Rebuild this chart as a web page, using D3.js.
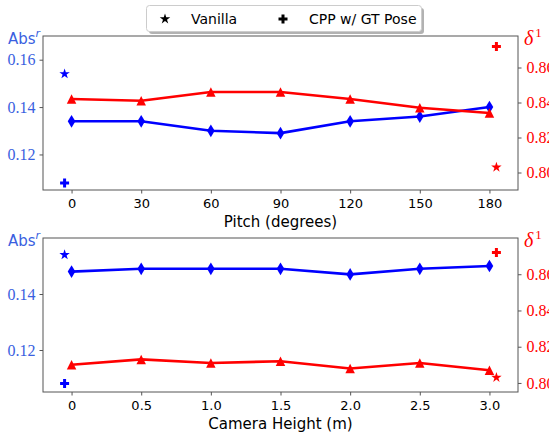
<!DOCTYPE html>
<html>
<head>
<meta charset="utf-8">
<script src="https://cdn.jsdelivr.net/npm/d3@7"></script>
<style>
  html, body { margin: 0; padding: 0; background: #fff; }
  svg { display: block; }
</style>
</head>
<body>
<svg id="chart" width="549" height="435"></svg>
<script>
// ---- data ----
const pitchValues = [0, 30, 60, 90, 120, 150, 180];
const pitchAbsRel = [0.134, 0.134, 0.130, 0.129, 0.134, 0.136, 0.140];
const pitchDelta1 = [0.842, 0.841, 0.846, 0.846, 0.842, 0.837, 0.834];

const heightValues = [0, 0.5, 1.0, 1.5, 2.0, 2.5, 3.0];
const heightAbsRel = [0.148, 0.149, 0.149, 0.149, 0.147, 0.149, 0.150];
const heightDelta1 = [0.810, 0.813, 0.811, 0.812, 0.808, 0.811, 0.807];

// reference methods (same for both sweeps)
const vanillaAbsRel = 0.154;
const vanillaDelta1 = 0.803;
const gtPoseAbsRel = 0.108;
const gtPoseDelta1 = 0.872;

const pitchTicks = [0, 30, 60, 90, 120, 150, 180];
const heightTicks = ["0", "0.5", "1.0", "1.5", "2.0", "2.5", "3.0"];
const absTicksTop = [0.12, 0.14, 0.16];
const absTicksBottom = [0.12, 0.14];
const deltaTicks = [0.80, 0.82, 0.84, 0.86];

const legendItems = [
  { label: "Vanilla", symbol: "star" },
  { label: "CPP w/ GT Pose", symbol: "plus" }
];

// ---- styles ----
const BLUE = "#0000ff";
const RED = "#ff0000";
const LABEL_BLUE = "#3a5fe0";
const SPINE = "#555";
const serif = "'Liberation Serif', 'DejaVu Serif', serif";
const sans = "'DejaVu Sans', sans-serif";

const svg = d3.select("#chart");

// thin diamond and wide triangle, like the usual plotting markers
const thinDiamond = {
  draw(ctx, size) {
    const h = Math.sqrt(size) * 1.3, w = h * 0.6;
    ctx.moveTo(0, -h / 2); ctx.lineTo(w / 2, 0); ctx.lineTo(0, h / 2); ctx.lineTo(-w / 2, 0); ctx.closePath();
  }
};
const triUp = {
  draw(ctx, size) {
    const s = Math.sqrt(size);
    ctx.moveTo(0, -s / 2); ctx.lineTo(s / 2, s / 2); ctx.lineTo(-s / 2, s / 2); ctx.closePath();
  }
};
const fatPlus = {
  draw(ctx, size) {
    const a = Math.sqrt(size) / 2, b = a / 3;
    ctx.moveTo(-b, -a); ctx.lineTo(b, -a); ctx.lineTo(b, -b); ctx.lineTo(a, -b);
    ctx.lineTo(a, b); ctx.lineTo(b, b); ctx.lineTo(b, a); ctx.lineTo(-b, a);
    ctx.lineTo(-b, b); ctx.lineTo(-a, b); ctx.lineTo(-a, -b); ctx.lineTo(-b, -b); ctx.closePath();
  }
};
const symbolPath = {
  diamond: d3.symbol().type(thinDiamond).size(96)(),
  triangle: d3.symbol().type(triUp).size(90)(),
  star: d3.symbol().type(d3.symbolStar).size(34)(),
  plus: d3.symbol().type(fatPlus).size(81)()
};

function panel(cfg) {
  const { top, bottom, left, right } = cfg.box;
  const g = svg.append("g");
  const x = d3.scaleLinear().domain(cfg.xDomain).range([left, right]);
  const yL = d3.scaleLinear().domain(cfg.leftDomain).range([bottom, top]);
  const yR = d3.scaleLinear().domain(cfg.rightDomain).range([bottom, top]);

  // frame
  g.append("rect").attr("x", left).attr("y", top)
    .attr("width", right - left).attr("height", bottom - top)
    .attr("fill", "none").attr("stroke", SPINE).attr("stroke-width", 1);

  // bottom axis
  const xAxis = g.append("g").attr("transform", `translate(0,${bottom})`)
    .call(d3.axisBottom(x).tickValues(cfg.xTicks).tickSize(3.5).tickPadding(5)
      .tickFormat((d, i) => cfg.xTickLabels[i]));
  xAxis.select(".domain").remove();
  xAxis.selectAll("line").attr("stroke", SPINE);
  xAxis.selectAll("text").attr("font-family", sans).attr("font-size", 13).attr("fill", "#000");

  // left axis
  const lAxis = g.append("g").attr("transform", `translate(${left},0)`)
    .call(d3.axisLeft(yL).tickValues(cfg.leftTicks).tickSize(3.5).tickPadding(4).tickFormat(d3.format(".2f")));
  lAxis.select(".domain").remove();
  lAxis.selectAll("line").attr("stroke", SPINE);
  lAxis.selectAll("text").attr("font-family", serif).attr("font-size", 16).attr("fill", LABEL_BLUE);

  // right axis
  const rAxis = g.append("g").attr("transform", `translate(${right},0)`)
    .call(d3.axisRight(yR).tickValues(deltaTicks).tickSize(3.5).tickPadding(5).tickFormat(d3.format(".2f")));
  rAxis.select(".domain").remove();
  rAxis.selectAll("line").attr("stroke", SPINE);
  rAxis.selectAll("text").attr("font-family", serif).attr("font-size", 16).attr("fill", RED);

  // series
  const series = [
    { vals: cfg.abs, y: yL, color: BLUE, marker: "diamond" },
    { vals: cfg.delta, y: yR, color: RED, marker: "triangle" }
  ];
  series.forEach(s => {
    const pts = cfg.xs.map((xv, i) => [x(xv), s.y(s.vals[i])]);
    g.append("path").attr("d", d3.line()(pts))
      .attr("fill", "none").attr("stroke", s.color).attr("stroke-width", 2.6)
      .attr("stroke-linejoin", "round");
    g.selectAll(null).data(pts).join("path")
      .attr("transform", d => `translate(${d[0]},${d[1]})`)
      .attr("d", symbolPath[s.marker]).attr("fill", s.color);
  });

  // reference points
  const refs = [
    { xv: cfg.leftRefX, v: vanillaAbsRel, y: yL, color: BLUE, m: "star" },
    { xv: cfg.leftRefX, v: gtPoseAbsRel, y: yL, color: BLUE, m: "plus" },
    { xv: cfg.rightRefX, v: vanillaDelta1, y: yR, color: RED, m: "star" },
    { xv: cfg.rightRefX, v: gtPoseDelta1, y: yR, color: RED, m: "plus" }
  ];
  g.selectAll(null).data(refs).join("path")
    .attr("transform", d => `translate(${x(d.xv)},${d.y(d.v)})`)
    .attr("d", d => symbolPath[d.m]).attr("fill", d => d.color);

  // axis titles
  const absT = g.append("text").attr("x", 8).attr("y", top + 8)
    .attr("font-family", sans).attr("font-size", 15).attr("fill", LABEL_BLUE);
  absT.append("tspan").text("Abs");
  absT.append("tspan").attr("dy", -7).attr("font-size", 11).attr("font-style", "italic").text("r");

  const dT = g.append("text").attr("x", 524).attr("y", top + 9)
    .attr("font-family", serif).attr("fill", RED);
  dT.append("tspan").attr("font-size", 20).attr("font-style", "italic").text("δ");
  dT.append("tspan").attr("dx", 2).attr("dy", -8).attr("font-size", 13).text("1");

  g.append("text").attr("x", (left + right) / 2).attr("y", cfg.xLabelY)
    .attr("text-anchor", "middle").attr("font-family", sans).attr("font-size", 15)
    .attr("fill", "#000").text(cfg.xLabel);
}

panel({
  box: { top: 36, bottom: 190, left: 43, right: 518 },
  xDomain: [-12.3, 192.3],
  leftDomain: [0.105, 0.170],
  rightDomain: [0.790, 0.878],
  xs: pitchValues, abs: pitchAbsRel, delta: pitchDelta1,
  xTicks: pitchTicks, xTickLabels: pitchTicks.map(String),
  leftTicks: absTicksTop,
  leftRefX: -3, rightRefX: 183,
  xLabel: "Pitch (degrees)", xLabelY: 227
});

panel({
  box: { top: 238, bottom: 392, left: 43, right: 518 },
  xDomain: [-0.205, 3.205],
  leftDomain: [0.105, 0.160],
  rightDomain: [0.795, 0.880],
  xs: heightValues, abs: heightAbsRel, delta: heightDelta1,
  xTicks: heightTicks.map(Number), xTickLabels: heightTicks,
  leftTicks: absTicksBottom,
  leftRefX: -0.05, rightRefX: 3.05,
  xLabel: "Camera Height (m)", xLabelY: 429
});

// legend
const leg = svg.append("g");
leg.append("rect").attr("x", 149).attr("y", 8).attr("width", 275).attr("height", 26)
  .attr("rx", 3).attr("fill", "#000").attr("opacity", 0.3);
leg.append("rect").attr("x", 146.5).attr("y", 5.5).attr("width", 275).attr("height", 26)
  .attr("rx", 3).attr("fill", "#fff").attr("stroke", "#ccc").attr("stroke-width", 1);
const legX = [165, 283];
legendItems.forEach((d, i) => {
  leg.append("path").attr("transform", `translate(${legX[i]},19)`)
    .attr("d", symbolPath[d.symbol]).attr("fill", "#000");
  leg.append("text").attr("x", legX[i] + 26).attr("y", 24)
    .attr("font-family", sans).attr("font-size", 14).attr("fill", "#000").text(d.label);
});
</script>
</body>
</html>
